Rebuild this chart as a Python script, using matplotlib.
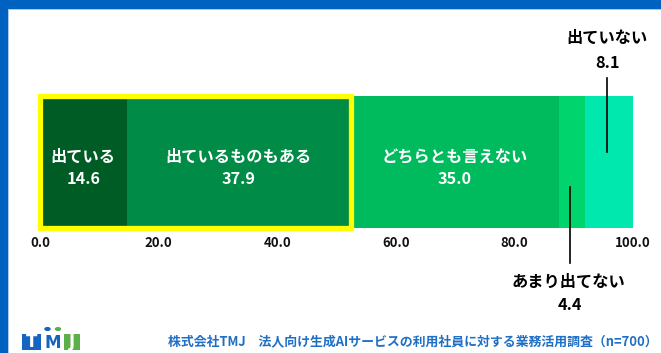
import matplotlib
matplotlib.use("Agg")
import matplotlib.pyplot as plt
from matplotlib.patches import Rectangle

plt.rcParams['font.family'] = ['Noto Sans CJK JP', 'DejaVu Sans']

categories = ["出ている", "出ているものもある", "どちらとも言えない", "あまり出てない", "出ていない"]
values = [14.6, 37.9, 35.0, 4.4, 8.1]
colors = ["#005C25", "#008B46", "#00BA5E", "#00D46C", "#00E8AE"]
xticks = [0, 20, 40, 60, 80, 100]
xtick_labels = ["0.0", "20.0", "40.0", "60.0", "80.0", "100.0"]
inside = [True, True, True, False, False]
footer = "株式会社TMJ　法人向け生成AIサービスの利用社員に対する業務活用調査（n=700）"

W, H = 661, 353
fig = plt.figure(figsize=(W / 100, H / 100), dpi=100)
fig.patch.set_facecolor("white")

# frame
fig.add_artist(Rectangle((0, 1 - 9 / H), 1, 9 / H, transform=fig.transFigure, color="#0062C0", lw=0))
fig.add_artist(Rectangle((0, 0), 8 / W, 1, transform=fig.transFigure, color="#0062C0", lw=0))
fig.add_artist(Rectangle((8 / W, 1 - 10 / H), 1, 1 / H, transform=fig.transFigure, color="#A9CBEB", lw=0))
fig.add_artist(Rectangle((8 / W, 0), 1 / W, 1 - 9 / H, transform=fig.transFigure, color="#A9CBEB", lw=0))

ax_left, ax_right = 40, 633
ax_top, ax_bot = 96, 228
ax = fig.add_axes([ax_left / W, 1 - ax_bot / H, (ax_right - ax_left) / W, (ax_bot - ax_top) / H])
ax.set_xlim(0, 100)
ax.set_ylim(-0.5, 0.5)
for s in ax.spines.values():
    s.set_visible(False)
ax.set_yticks([])
ax.set_xticks(xticks)
ax.set_xticklabels(xtick_labels, fontsize=9.5, fontweight="bold", color="#111111")
ax.tick_params(axis="x", length=0, pad=6)

left = 0
centers = []
for cat, v, c in zip(categories, values, colors):
    ax.barh(0, v, left=left, height=1.0, color=c, edgecolor="none")
    centers.append(left + v / 2)
    left += v

tr = ax.get_xaxis_transform()
# inside labels
for cat, v, cx, ins in zip(categories, values, centers, inside):
    if ins:
        ax.text(cx, 0.538, cat, ha="center", va="center", color="white", fontsize=11.7, fontweight="bold", transform=tr)
        ax.text(cx, 0.371, f"{v:.1f}", ha="center", va="center", color="white", fontsize=11.7, fontweight="bold", transform=tr)

# 出ていない (above)
cx = centers[4]
ax.plot([cx - 0.3, cx - 0.3], [1.136, 0.576], color="black", lw=1.2, transform=tr, clip_on=False)
ax.text(cx - 0.3, 1.44, categories[4], ha="center", va="center", fontsize=11.7, fontweight="bold", color="black", transform=tr)
ax.text(cx - 0.3, 1.25, f"{values[4]:.1f}", ha="center", va="center", fontsize=11.7, fontweight="bold", color="black", transform=tr)
# あまり出てない (below)
cx = centers[3]
ax.plot([cx - 0.3, cx - 0.3], [0.31, -0.265], color="black", lw=1.2, transform=tr, clip_on=False)
ax.text(cx - 0.6, -0.41, categories[3], ha="center", va="center", fontsize=11.7, fontweight="bold", color="black", transform=tr)
ax.text(cx - 0.3, -0.583, f"{values[3]:.1f}", ha="center", va="center", fontsize=11.7, fontweight="bold", color="black", transform=tr)

# yellow highlight box around first two segments
ax.add_patch(Rectangle((0, -0.5), values[0] + values[1], 1.0, fill=False, edgecolor="#FFFF00", lw=3.8,
                       clip_on=False, zorder=5))

# footer
fig.text(658 / W, 1 - 341 / H, footer, ha="right", va="center", fontsize=9.3, fontweight="bold", color="#1F6FC5")

# logo
fig.add_artist(Rectangle((22 / W, 1 - 350 / H), 19 / W, 16 / H, transform=fig.transFigure, color="#1565C0", lw=0))
fig.text(31.5 / W, 1 - 342 / H, "T", ha="center", va="center", fontsize=12, fontweight="bold", color="white",
         family="DejaVu Sans")
fig.text(52.5 / W, 1 - 342.5 / H, "M", ha="center", va="center", fontsize=12, fontweight="bold", color="#1565C0",
         family="DejaVu Sans")
fig.add_artist(Rectangle((64 / W, 1 - 350 / H), 16 / W, 16 / H, transform=fig.transFigure, color="#5BB04A", lw=0))
fig.text(72 / W, 1 - 342 / H, "J", ha="center", va="center", fontsize=12, fontweight="bold", color="white",
         family="DejaVu Sans")
fig.add_artist(plt.Circle((47.5 / W, 1 - 329 / H), 2.5 / W, transform=fig.transFigure, color="#1565C0"))
fig.add_artist(plt.Circle((58 / W, 1 - 329 / H), 2.5 / W, transform=fig.transFigure, color="#5BB04A"))

fig.savefig("out.png", dpi=100)
